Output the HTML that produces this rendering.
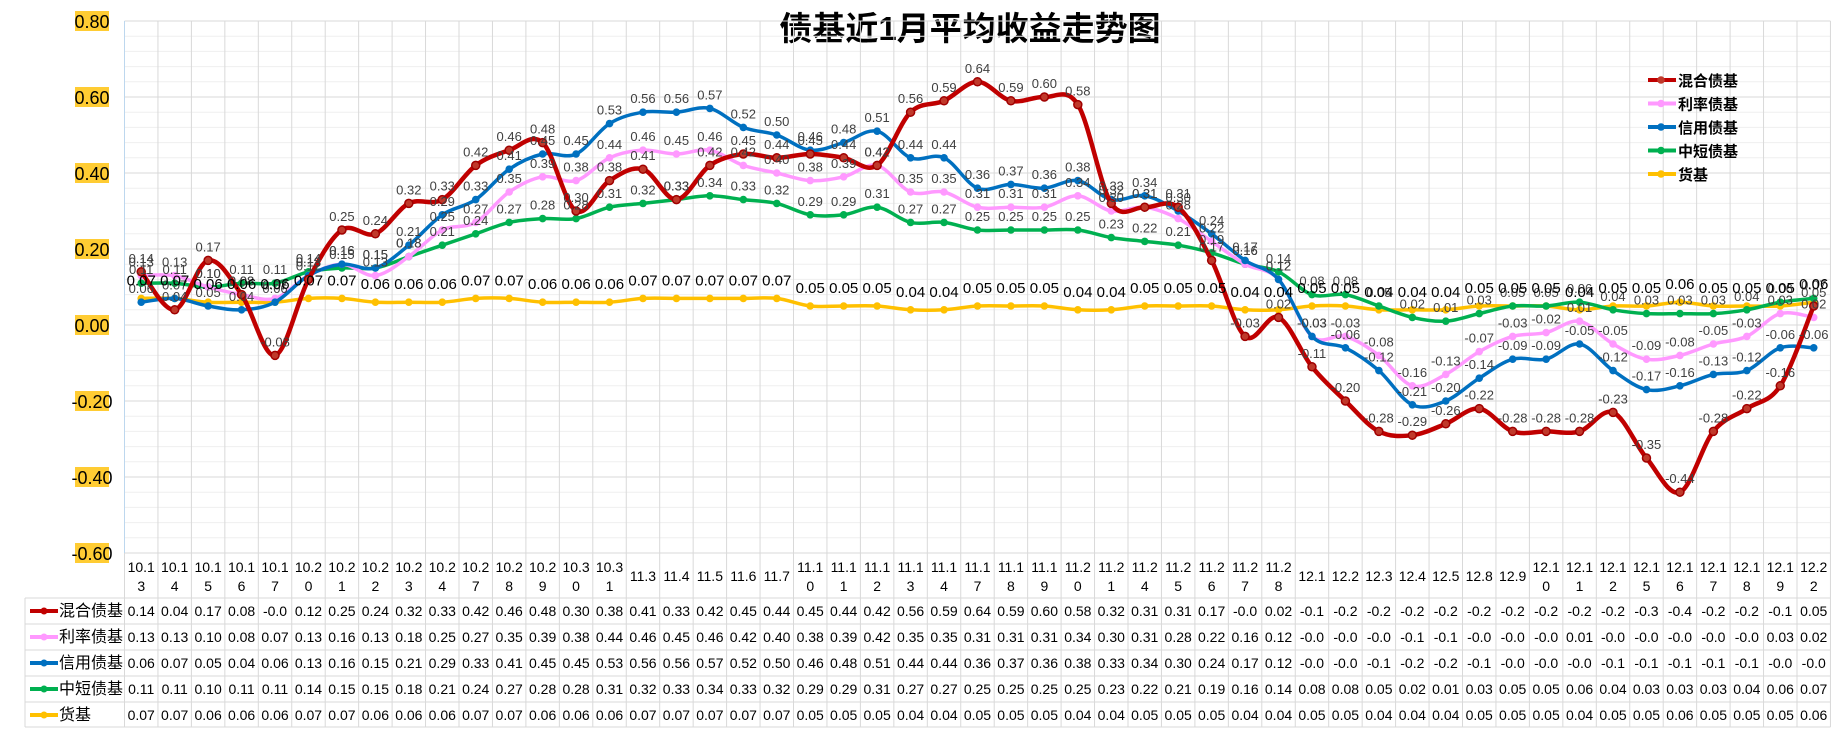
<!DOCTYPE html>
<html><head><meta charset="utf-8">
<style>
html,body{margin:0;padding:0;background:#fff;}
body{width:1841px;height:732px;overflow:hidden;font-family:"Liberation Sans","Noto Sans CJK SC",sans-serif;}
svg text{font-family:"Liberation Sans","Noto Sans CJK SC",sans-serif;}
</style></head>
<body>
<svg id="chart" width="1841" height="732" viewBox="0 0 1841 732" xmlns="http://www.w3.org/2000/svg">
<text x="970" y="40" text-anchor="middle" font-size="33" font-weight="bold" fill="#000">债基近1月平均收益走势图</text>
<g id="grid"></g>
<g id="yaxis"></g>
<g id="table"></g>
<g id="series"></g>
<g id="labels"></g>
<g id="legend"></g>
</svg>
<script>
const categories = ["10.13","10.14","10.15","10.16","10.17","10.20","10.21","10.22","10.23","10.24","10.27","10.28","10.29","10.30","10.31","11.3","11.4","11.5","11.6","11.7","11.10","11.11","11.12","11.13","11.14","11.17","11.18","11.19","11.20","11.21","11.24","11.25","11.26","11.27","11.28","12.1","12.2","12.3","12.4","12.5","12.8","12.9","12.10","12.11","12.12","12.15","12.16","12.17","12.18","12.19","12.22"];
const seriesNames = ["混合债基","利率债基","信用债基","中短债基","货基"];
const hybridValues = [0.14,0.04,0.17,0.08,-0.08,0.12,0.25,0.24,0.32,0.33,0.42,0.46,0.48,0.30,0.38,0.41,0.33,0.42,0.45,0.44,0.45,0.44,0.42,0.56,0.59,0.64,0.59,0.60,0.58,0.32,0.31,0.31,0.17,-0.03,0.02,-0.11,-0.20,-0.28,-0.29,-0.26,-0.22,-0.28,-0.28,-0.28,-0.23,-0.35,-0.44,-0.28,-0.22,-0.16,0.05];
const rateValues = [0.13,0.13,0.10,0.08,0.07,0.13,0.16,0.13,0.18,0.25,0.27,0.35,0.39,0.38,0.44,0.46,0.45,0.46,0.42,0.40,0.38,0.39,0.42,0.35,0.35,0.31,0.31,0.31,0.34,0.30,0.31,0.28,0.22,0.16,0.12,-0.03,-0.03,-0.08,-0.16,-0.13,-0.07,-0.03,-0.02,0.01,-0.05,-0.09,-0.08,-0.05,-0.03,0.03,0.02];
const creditValues = [0.06,0.07,0.05,0.04,0.06,0.13,0.16,0.15,0.21,0.29,0.33,0.41,0.45,0.45,0.53,0.56,0.56,0.57,0.52,0.50,0.46,0.48,0.51,0.44,0.44,0.36,0.37,0.36,0.38,0.33,0.34,0.30,0.24,0.17,0.12,-0.03,-0.06,-0.12,-0.21,-0.20,-0.14,-0.09,-0.09,-0.05,-0.12,-0.17,-0.16,-0.13,-0.12,-0.06,-0.06];
const shortValues = [0.11,0.11,0.10,0.11,0.11,0.14,0.15,0.15,0.18,0.21,0.24,0.27,0.28,0.28,0.31,0.32,0.33,0.34,0.33,0.32,0.29,0.29,0.31,0.27,0.27,0.25,0.25,0.25,0.25,0.23,0.22,0.21,0.19,0.16,0.14,0.08,0.08,0.05,0.02,0.01,0.03,0.05,0.05,0.06,0.04,0.03,0.03,0.03,0.04,0.06,0.07];
const moneyValues = [0.07,0.07,0.06,0.06,0.06,0.07,0.07,0.06,0.06,0.06,0.07,0.07,0.06,0.06,0.06,0.07,0.07,0.07,0.07,0.07,0.05,0.05,0.05,0.04,0.04,0.05,0.05,0.05,0.04,0.04,0.05,0.05,0.05,0.04,0.04,0.05,0.05,0.04,0.04,0.04,0.05,0.05,0.05,0.04,0.05,0.05,0.06,0.05,0.05,0.05,0.06];
const yTicks = [0.80,0.60,0.40,0.20,0.00,-0.20,-0.40,-0.60];

const NS="http://www.w3.org/2000/svg";
const X0=124.5, COLW=33.45, YTOP=21, PXU=380, Y0=325;
const colors=["#C00000","#FF99FF","#0070C0","#00B050","#FFC000"];
const allSeries=[hybridValues,rateValues,creditValues,shortValues,moneyValues];
const slugs=["hybrid","rate","credit","short","money"];
const xs=i=>X0+COLW*(i+0.5);
const ys=v=>Y0-v*PXU;
const nCols=categories.length;
const XR=X0+COLW*nCols;
function mk(tag,attrs,parent){const e=document.createElementNS(NS,tag);for(const k in attrs)e.setAttribute(k,attrs[k]);parent.appendChild(e);return e;}
const grid=document.getElementById('grid');
for(let k=0;k<=35;k++){const v=0.8-k*0.04;const y=ys(v);
 const major=Math.abs(Math.round(v*100)%20)===0;
 const l=mk('line',{x1:X0,x2:XR,y1:y,y2:y,stroke:major?'#d9d9d9':'#efefef','stroke-width':1},grid);
 
 }
for(let i=0;i<=nCols;i++){const x=X0+COLW*i;
 const l=mk('line',{x1:x,x2:x,y1:YTOP,y2:727,stroke:'#d9d9d9','stroke-width':1},grid);
 
 }
mk('line',{x1:X0,x2:X0,y1:YTOP,y2:553,stroke:'#bdd7ee','stroke-width':1},grid);
const ya=document.getElementById('yaxis');
yTicks.forEach(v=>{const y=ys(v);
 const r=mk('rect',{x:75,y:y-10,width:34,height:20,fill:'#FFCC33'},ya);
 
 
 const t=mk('text',{x:92,y:y+7,'text-anchor':'middle','font-size':18,fill:'#000'},ya);
 t.textContent=v.toFixed(2);
 
 });
const tb=document.getElementById('table');
const rowTops=[598,624,650,676,702,727];
rowTops.forEach(y=>{const l=mk('line',{x1:25,x2:XR,y1:y,y2:y,stroke:'#d9d9d9'},tb);
 
 });
mk('line',{x1:25,x2:25,y1:598,y2:727,stroke:'#d9d9d9'},tb);
categories.forEach((c,i)=>{const x=xs(i);
 const t=mk('text',{'text-anchor':'middle','font-size':14,fill:'#000'},tb);
 
 
 if(c.length>4){const a=mk('tspan',{x:x,y:572},t);a.textContent=c.slice(0,4);const b=mk('tspan',{x:x,y:591},t);b.textContent=c.slice(4);}
 else{t.setAttribute('x',x);t.setAttribute('y',581);t.textContent=c;}});
function fmtTable(v){let s=v.toFixed(2);if(v<0){s=(Math.trunc(v*10)/10).toFixed(1);if(s==="0.0")s="-0.0";if(!s.startsWith('-'))s='-'+s;}return s;}
allSeries.forEach((arr,si)=>{const cy=rowTops[si]+18;
 const g=mk('g',{},tb);
 
 
 mk('line',{x1:30,x2:58,y1:cy-5,y2:cy-5,stroke:colors[si],'stroke-width':4},g);
 mk('circle',{cx:44,cy:cy-5,r:3.5,fill:colors[si]},g);
 const n=mk('text',{x:59,y:cy,'font-size':16,fill:'#000'},g);n.textContent=seriesNames[si];
 arr.forEach((v,i)=>{const t=mk('text',{x:xs(i),y:cy,'text-anchor':'middle','font-size':14,fill:'#000'},g);t.textContent=fmtTable(v);});});
const sg=document.getElementById('series');
function smooth(pts){let d=`M${pts[0][0]},${pts[0][1]}`;
 for(let i=0;i<pts.length-1;i++){const p0=pts[i-1]||pts[i],p1=pts[i],p2=pts[i+1],p3=pts[i+2]||p2;
  const c1=[p1[0]+(p2[0]-p0[0])/6,p1[1]+(p2[1]-p0[1])/6],c2=[p2[0]-(p3[0]-p1[0])/6,p2[1]-(p3[1]-p1[1])/6];
  d+=` C${c1[0]},${c1[1]} ${c2[0]},${c2[1]} ${p2[0]},${p2[1]}`;}return d;}
[4,3,1,2,0].forEach(si=>{const arr=allSeries[si];
 const g=mk('g',{},sg);
 
 
 const pts=arr.map((v,i)=>[xs(i),ys(v)]);
 const p=mk('path',{d:smooth(pts),fill:'none',stroke:colors[si],'stroke-width':si===0?4.5:3.5,'stroke-linejoin':'round'},g);
 
 
 pts.forEach(pt=>{const c=mk('circle',{cx:pt[0],cy:pt[1],r:si===0?4:3.8,fill:si===0?'#C0392B':colors[si],stroke:si===0?'#A00000':'none','stroke-width':1.5},g);
  
  });});
const lg=document.getElementById('labels');
[0,1,2,3,4].forEach(si=>{allSeries[si].forEach((v,i)=>{
 const big=si===4;
 const t=mk('text',{x:xs(i),y:ys(v)-(big?13:9),'text-anchor':'middle','font-size':big?15:13,fill:big?'#000':'#404040'},lg);
 t.textContent=v.toFixed(2);
 
 });});
const lgd=document.getElementById('legend');
seriesNames.forEach((n,si)=>{const y=80+si*23.5;
 const g=mk('g',{},lgd);
 
 
 mk('line',{x1:1648,x2:1676,y1:y,y2:y,stroke:colors[si],'stroke-width':4},g);
 mk('circle',{cx:1661,cy:y,r:3.8,fill:si===0?'#C0392B':colors[si]},g);
 const t=mk('text',{x:1678,y:y+6,'font-size':15,'font-weight':'bold',fill:'#000'},g);t.textContent=n;});
</script>
</body></html>
